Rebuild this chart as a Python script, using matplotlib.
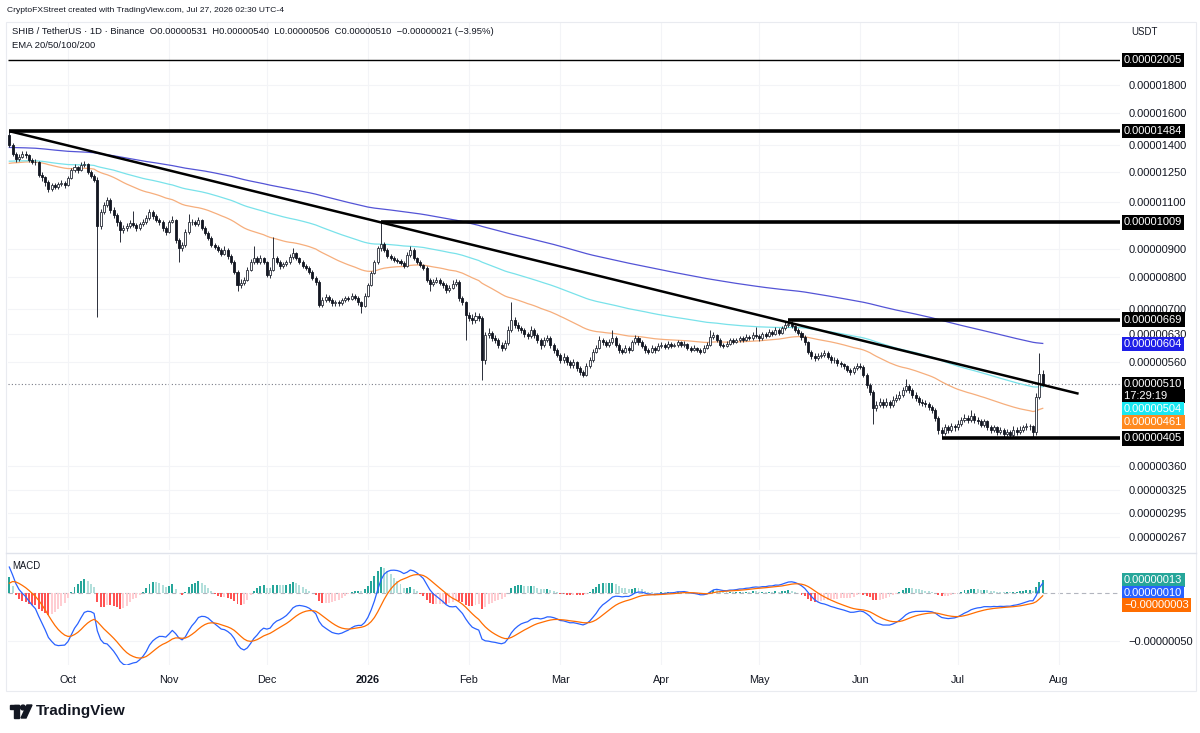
import matplotlib
matplotlib.use("Agg")

from datetime import datetime

import matplotlib.dates as mdates
import matplotlib.pyplot as plt
import numpy as np
import pandas as pd
from matplotlib.patches import Circle, Polygon, Rectangle
from matplotlib.ticker import FixedLocator, FuncFormatter, NullLocator

plt.rcParams["font.family"] = ["Liberation Sans", "DejaVu Sans"]

# prices are kept in units of 1e-8 USDT
SCALE = 1e-8
START_DATE = "2025-09-13"
FIRST_OPEN = 1460

CLOSES = [
    # Sep 13-30
    1400, 1350, 1320, 1330, 1345, 1340, 1314, 1305, 1300, 1235, 1220, 1195, 1160, 1180, 1170, 1185, 1190, 1182,
    # Oct
    1218, 1260, 1275, 1260, 1287, 1292, 1250, 1230, 1208, 995, 1055, 1088, 1110, 1064, 1042, 1010, 978, 985,
    993, 1006, 999, 985, 1002, 1010, 1028, 1055, 1036, 1020, 1011, 985, 970,
    # Nov
    1011, 1020, 937, 906, 918, 970, 1011, 1011, 1002, 1020, 985, 966, 945, 918, 910, 899, 884, 899, 876, 854,
    819, 775, 782, 792, 826, 854, 868, 854, 868, 854,
    # Dec
    809, 826, 868, 854, 840, 847, 854, 872, 888, 868, 854, 840, 833, 819, 799, 785, 712, 727, 737, 727,
    717, 720, 717, 727, 733, 730, 740, 733, 720, 708, 740,
    # Jan
    775, 815, 854, 906, 921, 899, 876, 868, 861, 858, 851, 840, 880, 899, 868, 854, 844, 833, 792, 779,
    785, 792, 782, 775, 759, 765, 779, 785, 733, 720, 683,
    # Feb
    674, 668, 680, 674, 564, 627, 633, 620, 614, 601, 594, 607, 641, 668, 654, 646, 641, 630, 625, 641,
    627, 614, 601, 614, 619, 601, 589, 577,
    # Mar
    564, 572, 559, 552, 559, 545, 536, 530, 550, 564, 584, 594, 614, 609, 601, 609, 619, 601, 589, 584,
    594, 589, 609, 619, 609, 599, 589, 584, 594, 589, 599,
    # Apr
    601, 596, 604, 599, 601, 609, 601, 604, 594, 589, 594, 589, 584, 594, 601, 622, 627, 614, 601, 599,
    604, 614, 609, 614, 619, 614, 622, 619, 627, 625,
    # May
    619, 630, 625, 635, 630, 641, 633, 646, 654, 657, 651, 641, 633, 622, 609, 584, 574, 569, 574, 577,
    581, 572, 564, 564, 557, 554, 550, 541, 536, 545, 550,
    # Jun
    548, 530, 508, 493, 461, 467, 473, 467, 473, 467, 477, 481, 487, 497, 506, 497, 487, 481, 473, 471,
    469, 463, 457, 442, 420, 415, 424, 420, 426, 424,
    # Jul 1-27
    431, 438, 442, 438, 446, 438, 435, 429, 435, 424, 420, 424, 416, 420, 413, 416, 411, 420, 416, 420,
    424, 427, 426, 416, 482, 531, 510,
]

HIGHS = [
    1484, 1410, 1360, 1345, 1365, 1362, 1350, 1325, 1318, 1308, 1250, 1230, 1205, 1192, 1190, 1198, 1205, 1200,
    1228, 1272, 1290, 1282, 1300, 1310, 1298, 1258, 1240, 1220, 1068, 1100, 1125, 1118, 1075, 1050, 1018, 998,
    1005, 1018, 1060, 1008, 1012, 1022, 1040, 1068, 1062, 1045, 1030, 1018, 995,
    1020, 1035, 1025, 945, 930, 980, 1045, 1025, 1020, 1032, 1025, 992, 972, 952, 925, 918, 905, 912, 905, 882,
    860, 825, 795, 802, 835, 865, 915, 875, 878, 872,
    858, 835, 948, 875, 860, 855, 862, 882, 905, 892, 872, 860, 845, 838, 825, 805, 790, 735, 745, 742,
    732, 728, 726, 734, 740, 738, 748, 745, 738, 725, 748,
    782, 822, 862, 915, 1009, 930, 905, 882, 875, 868, 865, 856, 890, 912, 904, 872, 860, 848, 838, 798,
    795, 802, 798, 788, 780, 775, 790, 795, 790, 740, 725,
    692, 685, 690, 688, 680, 635, 645, 638, 628, 620, 608, 615, 650, 720, 675, 662, 652, 646, 636, 650,
    645, 632, 618, 622, 628, 624, 606, 594,
    582, 580, 576, 565, 566, 562, 550, 540, 556, 570, 590, 602, 625, 620, 614, 616, 640, 624, 606, 594,
    600, 598, 615, 628, 624, 614, 604, 594, 600, 598, 606,
    608, 606, 610, 608, 606, 615, 612, 610, 607, 598, 600, 597, 593, 600, 608, 640, 635, 630, 618, 606,
    610, 620, 618, 620, 625, 623, 630, 627, 634, 648,
    630, 636, 634, 642, 640, 648, 645, 652, 662, 669, 664, 655, 646, 637, 626, 612, 588, 580, 580, 584,
    588, 585, 576, 570, 568, 562, 558, 553, 545, 550, 556,
    556, 552, 534, 512, 497, 475, 480, 478, 480, 477, 484, 488, 494, 504, 520, 510, 500, 492, 485, 478,
    476, 473, 467, 460, 445, 425, 430, 428, 432, 430,
    437, 444, 448, 447, 456, 450, 443, 439, 440, 438, 428, 429, 427, 425, 423, 421, 419, 427, 424, 426,
    429, 432, 431, 429, 490, 580, 540,
]

LOWS = [
    1390, 1335, 1305, 1310, 1322, 1325, 1300, 1290, 1285, 1220, 1200, 1175, 1145, 1150, 1160, 1162, 1175, 1165,
    1175, 1210, 1250, 1245, 1252, 1275, 1240, 1218, 1195, 676, 980, 1045, 1075, 1050, 1030, 995, 930, 965,
    975, 985, 990, 972, 978, 995, 1002, 1020, 1025, 1010, 1000, 975, 958,
    965, 1005, 925, 855, 895, 910, 962, 998, 992, 995, 978, 955, 935, 908, 900, 890, 875, 878, 865, 845,
    810, 755, 765, 775, 788, 820, 848, 845, 848, 845,
    800, 798, 820, 845, 830, 832, 840, 848, 865, 860, 845, 832, 825, 810, 790, 775, 705, 705, 720, 720,
    710, 710, 708, 712, 722, 724, 726, 728, 712, 688, 705,
    735, 770, 810, 848, 895, 890, 868, 860, 852, 850, 844, 832, 836, 872, 860, 846, 836, 825, 785, 755,
    772, 780, 775, 766, 750, 752, 760, 772, 725, 712, 614,
    665, 658, 660, 665, 519, 555, 620, 612, 606, 594, 585, 588, 602, 635, 645, 638, 632, 622, 616, 620,
    620, 606, 592, 596, 608, 594, 582, 570,
    556, 558, 552, 545, 546, 538, 530, 524, 526, 545, 560, 580, 590, 602, 595, 596, 604, 596, 582, 578,
    580, 582, 585, 604, 602, 594, 582, 578, 580, 582, 585,
    594, 590, 592, 594, 595, 597, 596, 597, 589, 583, 585, 583, 578, 580, 590, 598, 616, 608, 596, 593,
    595, 600, 603, 605, 609, 608, 610, 613, 614, 618,
    612, 615, 619, 621, 624, 626, 627, 629, 641, 648, 645, 635, 626, 615, 602, 578, 567, 562, 564, 568,
    572, 566, 558, 557, 551, 548, 544, 535, 530, 532, 541,
    542, 524, 502, 487, 430, 455, 462, 460, 462, 460, 463, 472, 476, 482, 492, 490, 481, 475, 467, 465,
    463, 457, 451, 436, 413, 405, 410, 414, 416, 418,
    420, 427, 434, 433, 434, 433, 430, 424, 425, 419, 415, 416, 411, 412, 408, 409, 406, 408, 411, 413,
    416, 420, 419, 408, 410, 478, 506,
]

# horizontal levels drawn on the chart and the day each one starts
LEVELS = [2005, 1484, 1009, 669, 405]
LEVEL_STARTS = ["2025-09-12", "2025-09-13", "2026-01-05", "2026-05-10", "2026-06-26"]
LEVEL_WIDTHS = [1.0, 2.6, 2.6, 2.6, 2.6]

# descending trend line: two touch points, extended to the end date
TREND_POINTS = [("2025-09-13", 1484), ("2026-01-05", 1009)]
TREND_END = "2026-08-07"

EMA_SPANS = [50, 100, 200]
EMA_SEEDS = [1291, 1305, 1385]          # EMA values read at the first visible candle
EMA_LINE_COLORS = ["#F6AE7C", "#79E2EA", "#5454D6"]
EMA_LAST = [461, 504, 604]
EMA_TAG_COLORS = ["#FF8A1F", "#19E8F2", "#1F1FE8"]

MACD_SEEDS = (1432, 1400, 6)            # ema12, ema26, signal at the first candle
MACD_READOUT = (13, 10, -3)             # histogram, macd, signal

PRICE_TICKS = [1800, 1600, 1400, 1250, 1100, 900, 800, 700, 630, 560, 360, 325, 295, 267]
MONTH_TICKS = ["2025-10-01", "2025-11-01", "2025-12-01", "2026-01-01", "2026-02-01", "2026-03-01",
               "2026-04-01", "2026-05-01", "2026-06-01", "2026-07-01", "2026-08-01"]
MONTH_LABELS = ["Oct", "Nov", "Dec", "2026", "Feb", "Mar", "Apr", "May", "Jun", "Jul", "Aug"]

LAST_PRICE = 510
COUNTDOWN = "17:29:19"

TEXT = "#131722"
LABEL_SIZE = 8.0
W, H = 1200, 733


def ema(values, span, seed):
    alpha = 2.0 / (span + 1)
    out = []
    prev = seed
    for v in values:
        prev = alpha * v + (1 - alpha) * prev
        out.append(prev)
    return np.array(out)


def price_fmt(v):
    s = f"{abs(v) * SCALE:.8f}"
    return ("\u2212" + s) if v < 0 else s


def frac(x0, y0, x1, y1):
    return [x0 / W, 1 - y1 / H, (x1 - x0) / W, (y1 - y0) / H]


def tag(axis, value, text, fc, dy=0, tc="white"):
    axis.annotate(
        text, xy=(1, value), xycoords=axis.get_yaxis_transform(),
        xytext=(4, dy), textcoords="offset pixels", ha="left", va="center",
        fontsize=LABEL_SIZE, color=tc, annotation_clip=False, zorder=10,
        bbox=dict(boxstyle="square,pad=0.2", fc=fc, ec="none"),
    )


dates = pd.date_range(START_DATE, periods=len(CLOSES), freq="D")
x = mdates.date2num(dates.to_pydatetime())
c = np.array(CLOSES, dtype=float)
o = np.concatenate([[FIRST_OPEN], c[:-1]])
hi = np.array(HIGHS, dtype=float)
lo = np.array(LOWS, dtype=float)

base = mdates.date2num(datetime(2025, 10, 1))
x_left, x_right = base - 18.4, base + 322.7

fig = plt.figure(figsize=(12, 7.33), dpi=100)
fig.patch.set_facecolor("white")
ax = fig.add_axes(frac(8, 22, 1120, 550))
mx = fig.add_axes(frac(8, 555, 1120, 665), sharex=ax)
over = fig.add_axes([0, 0, 1, 1])
over.set_xlim(0, W)
over.set_ylim(H, 0)
over.axis("off")

# ---- price pane
ax.set_yscale("log")
ax.set_xlim(x_left, x_right)
ax.set_ylim(252.6, 2354)

ax.vlines(x, lo, hi, color="#2A2E39", lw=0.7, zorder=3)
up = c >= o
ax.bar(x[up], (c - o)[up], bottom=o[up], width=0.62, color="white",
       edgecolor="#2A2E39", linewidth=0.6, zorder=4)
ax.bar(x[~up], (o - c)[~up], bottom=c[~up], width=0.62, color="#131722",
       edgecolor="#131722", linewidth=0.6, zorder=4)

for span, seed, col in zip(EMA_SPANS, EMA_SEEDS, EMA_LINE_COLORS):
    ax.plot(x, ema(c, span, seed), color=col, lw=0.9, zorder=2)

for level, start, lw in zip(LEVELS, LEVEL_STARTS, LEVEL_WIDTHS):
    xs = max(mdates.date2num(datetime.fromisoformat(start)), x_left)
    ax.hlines(level, xs, x_right, colors="black", lw=lw, zorder=5)

(d0, p0), (d1, p1) = TREND_POINTS
t0 = mdates.date2num(datetime.fromisoformat(d0))
t1 = mdates.date2num(datetime.fromisoformat(d1))
t2 = mdates.date2num(datetime.fromisoformat(TREND_END))
slope = np.log(p1 / p0) / (t1 - t0)
p2 = p0 * np.exp(slope * (t2 - t0))
ax.plot([t0, t2], [p0, p2], color="black", lw=1.8, zorder=5, solid_capstyle="butt")

ax.axhline(LAST_PRICE, color="#787B86", lw=0.8, ls=(0, (1, 2)), zorder=1)

ax.yaxis.tick_right()
ax.yaxis.set_major_locator(FixedLocator(PRICE_TICKS))
ax.yaxis.set_minor_locator(NullLocator())
ax.yaxis.set_major_formatter(FuncFormatter(lambda v, _: price_fmt(v)))
ax.tick_params(axis="y", which="both", length=0, pad=6, labelsize=LABEL_SIZE, labelcolor=TEXT)
ax.tick_params(axis="x", length=0, labelbottom=False)
ax.grid(axis="both", color="#F3F4F7", lw=0.8, zorder=0)
for sp in ax.spines.values():
    sp.set_visible(False)

for level in LEVELS:
    tag(ax, level, price_fmt(level), "black")
tag(ax, EMA_LAST[2], price_fmt(EMA_LAST[2]), EMA_TAG_COLORS[2])
tag(ax, LAST_PRICE, price_fmt(LAST_PRICE), "black")
tag(ax, LAST_PRICE, COUNTDOWN + "     ", "black", dy=-12)
tag(ax, LAST_PRICE, price_fmt(EMA_LAST[1]), EMA_TAG_COLORS[1], dy=-25)
tag(ax, LAST_PRICE, price_fmt(EMA_LAST[0]), EMA_TAG_COLORS[0], dy=-38)

# ---- MACD pane
e12 = ema(c, 12, MACD_SEEDS[0])
e26 = ema(c, 26, MACD_SEEDS[1])
macd = e12 - e26
signal = ema(macd, 9, MACD_SEEDS[2])
hist = macd - signal
hist_colors = []
for i, h in enumerate(hist):
    prev = hist[i - 1] if i else 0
    if h >= 0:
        hist_colors.append("#26A69A" if h > prev else "#B2DFDB")
    else:
        hist_colors.append("#FF5252" if h < prev else "#FFCDD2")

mx.axhline(0, color="#B2B5BE", lw=0.8, ls=(0, (4, 3)), zorder=1)
mx.bar(x, hist, width=0.6, color=hist_colors, zorder=2)
mx.plot(x, macd, color="#2962FF", lw=0.9, zorder=3)
mx.plot(x, signal, color="#FF6D00", lw=0.9, zorder=3)
mx.set_ylim(-75, 39.6)

mx.yaxis.tick_right()
mx.yaxis.set_major_locator(FixedLocator([-50]))
mx.yaxis.set_major_formatter(FuncFormatter(lambda v, _: price_fmt(v)))
mx.tick_params(axis="y", length=0, pad=6, labelsize=LABEL_SIZE, labelcolor=TEXT)
mx.set_xticks([mdates.date2num(datetime.fromisoformat(d)) for d in MONTH_TICKS])
mx.set_xticklabels(MONTH_LABELS)
mx.tick_params(axis="x", length=0, pad=7, labelsize=7.8, labelcolor=TEXT)
for lbl in mx.get_xticklabels():
    if lbl.get_text() == "2026":
        lbl.set_fontweight("bold")
mx.grid(axis="both", color="#F3F4F7", lw=0.8, zorder=0)
for sp in mx.spines.values():
    sp.set_visible(False)
mx.set_xlim(x_left, x_right)

tag(mx, 0, price_fmt(MACD_READOUT[0]), "#26A69A", dy=13)
tag(mx, 0, price_fmt(MACD_READOUT[1]), "#2962FF")
tag(mx, 0, price_fmt(MACD_READOUT[2]), "#FF6D00", dy=-12)

# ---- frame, header and footer
over.add_patch(Rectangle((6, 21.5), 1190, 669, fill=False, ec="#E9EBF0", lw=0.8))
over.plot([6, 1196], [552.5, 552.5], color="#E0E3EB", lw=1.0)
over.text(7, 11, "CryptoFXStreet created with TradingView.com, Jul 27, 2026 02:30 UTC-4",
          fontsize=6.1, color=TEXT, va="center")
over.text(12, 32, "SHIB / TetherUS \u00b7 1D \u00b7 Binance  O0.00000531  H0.00000540  L0.00000506  "
          "C0.00000510  \u22120.00000021 (\u22123.95%)", fontsize=6.8, color=TEXT, va="center")
over.text(12, 45, "EMA 20/50/100/200", fontsize=6.8, color=TEXT, va="center")
over.text(1131, 32, "USDT", fontsize=6.9, color=TEXT, va="center")
over.text(12, 566, "MACD", fontsize=6.9, color=TEXT, va="center")

over.add_patch(Rectangle((10, 705), 9, 4, color=TEXT))
over.add_patch(Rectangle((14, 705), 5, 13, color=TEXT))
over.add_patch(Circle((23, 707.5), 2.4, color=TEXT))
over.add_patch(Polygon([(21, 718), (27, 705), (32, 705), (26, 718)], closed=True, color=TEXT))
over.text(36, 711, "TradingView", fontsize=11, fontweight="bold", color=TEXT, va="center")

fig.savefig("out.png", dpi=100, facecolor="white")
plt.close(fig)
